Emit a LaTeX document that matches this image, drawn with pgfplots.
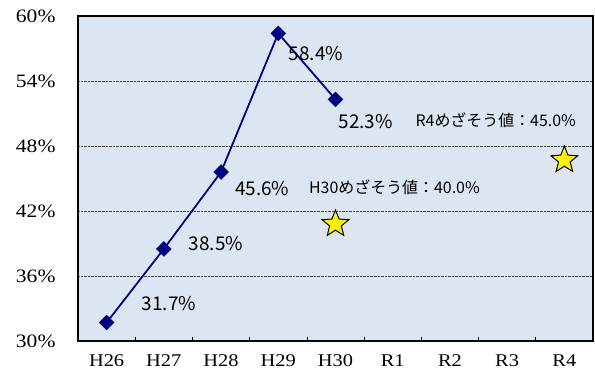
\documentclass[border=0pt]{standalone}
\usepackage{fontspec}
\setmainfont{Liberation Serif}
\newfontfamily\tickfont[FakeStretch=1.14]{Liberation Serif}
\newfontfamily\jp{Noto Sans CJK JP}
\usepackage{pgfplots}
\pgfplotsset{compat=1.18}
\definecolor{plotbg}{RGB}{220,230,242}
\definecolor{navyline}{RGB}{0,0,128}

% filled five-pointed star
\pgfdeclareplotmark{fstar}{%
  \pgfpathmoveto{\pgfpointpolar{90}{\pgfplotmarksize}}%
  \pgfpathlineto{\pgfpointpolar{126}{0.44\pgfplotmarksize}}%
  \pgfpathlineto{\pgfpointpolar{162}{\pgfplotmarksize}}%
  \pgfpathlineto{\pgfpointpolar{198}{0.44\pgfplotmarksize}}%
  \pgfpathlineto{\pgfpointpolar{234}{\pgfplotmarksize}}%
  \pgfpathlineto{\pgfpointpolar{270}{0.44\pgfplotmarksize}}%
  \pgfpathlineto{\pgfpointpolar{306}{\pgfplotmarksize}}%
  \pgfpathlineto{\pgfpointpolar{342}{0.44\pgfplotmarksize}}%
  \pgfpathlineto{\pgfpointpolar{18}{\pgfplotmarksize}}%
  \pgfpathlineto{\pgfpointpolar{54}{0.44\pgfplotmarksize}}%
  \pgfpathclose
  \pgfusepathqfillstroke
}

\begin{document}
\begin{tikzpicture}
\useasboundingbox (-78bp,-33bp) rectangle (517bp,341bp);
\begin{axis}[
    width=515bp, height=325bp,
    scale only axis,
    axis background/.style={fill=plotbg},
    axis line style={line width=1.6pt},
    xmin=-0.5, xmax=8.5,
    ymin=30, ymax=60,
    xtick={0,...,8},
    xticklabels={H26,H27,H28,H29,H30,R1,R2,R3,R4},
    minor xtick={0.5,1.5,...,7.5},
    major x tick style={draw=none},
    minor tick length=4bp,
    minor x tick style={black, line width=0.6pt},
    x tick label style={font=\tickfont\fontsize{18}{20}\selectfont, yshift=-10bp},
    ytick={30,36,...,60},
    yticklabels={30\%,36\%,42\%,48\%,54\%,60\%},
    y tick label style={font=\tickfont\fontsize{19}{21}\selectfont, xshift=-19bp},
    major y tick style={draw=none},
    tick pos=left,
    ymajorgrids=true,
    grid style={black!70, densely dotted, line width=0.6pt},
    clip=false,
]
\addplot[navyline, line width=1.8pt, mark=square*, mark size=4.6bp,
    mark options={fill=navyline, rotate=45, solid}]
    coordinates {(0,31.7) (1,38.5) (2,45.6) (3,58.4) (4,52.3)};
\addplot[only marks, mark=fstar, mark size=14bp,
    mark options={fill=yellow, draw=black, line width=1pt}]
    coordinates {(4,40.8) (8,46.7)};
\begin{scope}[every node/.style={font=\jp\fontsize{19}{21}\selectfont, anchor=center, inner sep=0pt}]
\node at (axis cs:1.09,33.48) {31.7\%};
\node at (axis cs:1.91,39.0) {38.5\%};
\node at (axis cs:2.72,44.1) {45.6\%};
\node at (axis cs:3.66,56.56) {58.4\%};
\node at (axis cs:4.53,50.29) {52.3\%};
\end{scope}
\begin{scope}[every node/.style={font=\jp\fontsize{16}{18}\selectfont, anchor=center, inner sep=0pt}]
\node at (axis cs:5.03,44.15) {H30めざそう値：40.0\%};
\node at (axis cs:6.80,50.38) {R4めざそう値：45.0\%};
\end{scope}
\end{axis}
\end{tikzpicture}
\end{document}
